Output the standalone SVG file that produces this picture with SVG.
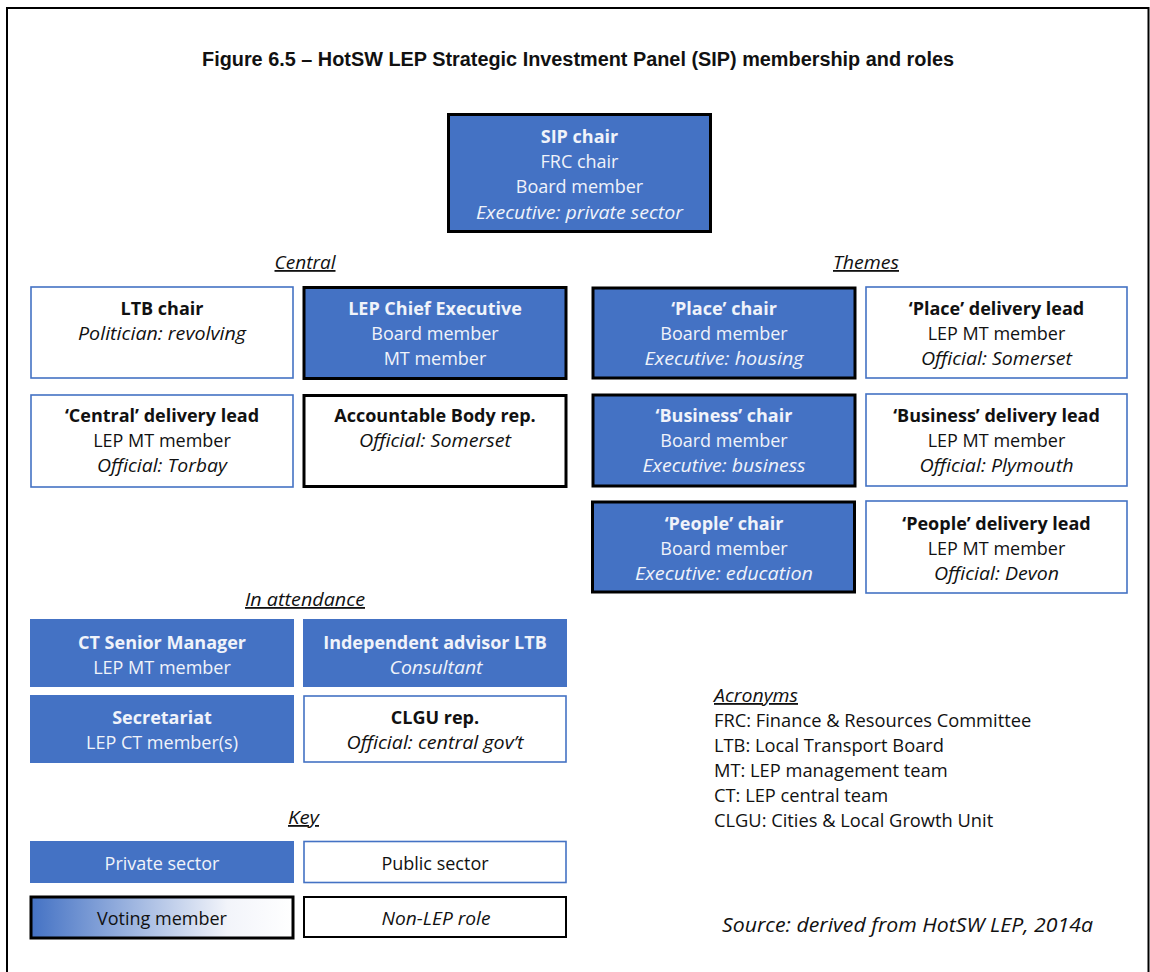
<svg xmlns="http://www.w3.org/2000/svg" width="1150" height="972" viewBox="0 0 1150 972">
<defs>
<linearGradient id="vote" x1="0" y1="0" x2="1" y2="0">
<stop offset="0" stop-color="#4472C4"/>
<stop offset="0.75" stop-color="#f2f4fa"/>
<stop offset="1" stop-color="#ffffff"/>
</linearGradient>
<style>
.t{font-family:"Open Sans","Liberation Sans",sans-serif;font-size:18px;text-anchor:middle;transform:translateY(1px)}
.b{font-weight:bold}
.i{font-style:italic}
.w{fill:#f0f3fa}
.k{fill:#111}
.priv{fill:#4472C4;stroke:none}
.privv{fill:#4472C4;stroke:#000;stroke-width:3}
.pub{fill:#fff;stroke:#4472C4;stroke-width:1.6}
.pubv{fill:#fff;stroke:#000;stroke-width:3}
.sec{font-family:"Open Sans","Liberation Sans",sans-serif;font-size:18px;font-style:italic;text-anchor:middle;text-decoration:underline;fill:#111;transform:translateY(1px)}
.acr{font-family:"Open Sans","Liberation Sans",sans-serif;font-size:18.3px;fill:#111;transform:translateY(1px)}
</style>
</defs>
<rect width="1150" height="972" fill="#fff"/>
<path d="M7,972 V8 H1148.5 V972" fill="none" stroke="#000" stroke-width="2"/>
<text x="578" y="66" font-family="Liberation Sans,sans-serif" font-size="19.5" font-weight="bold" text-anchor="middle" textLength="752" lengthAdjust="spacingAndGlyphs" fill="#111">Figure 6.5 – HotSW LEP Strategic Investment Panel (SIP) membership and roles</text>

<g id="sip-chair">
<rect class="privv" x="448.5" y="114.5" width="262" height="117"/>
<text class="t b w" x="579.5" y="142">SIP chair</text>
<text class="t w" x="579.5" y="167">FRC chair</text>
<text class="t w" x="579.5" y="192">Board member</text>
<text class="t i w" x="579.5" y="218" textLength="207" lengthAdjust="spacingAndGlyphs">Executive: private sector</text>
</g>

<text class="sec" x="305" y="268" textLength="61" lengthAdjust="spacingAndGlyphs">Central</text>
<text class="sec" x="866" y="268" textLength="66" lengthAdjust="spacingAndGlyphs">Themes</text>

<g id="ltb-chair">
<rect class="pub" x="31" y="287" width="262" height="91"/>
<text class="t b k" x="162" y="314">LTB chair</text>
<text class="t i k" x="162" y="339" textLength="168" lengthAdjust="spacingAndGlyphs">Politician: revolving</text>
</g>
<g id="lep-ceo">
<rect class="privv" x="304" y="287.5" width="262" height="91"/>
<text class="t b w" x="435" y="314">LEP Chief Executive</text>
<text class="t w" x="435" y="339">Board member</text>
<text class="t w" x="435" y="364">MT member</text>
</g>
<g id="central-lead">
<rect class="pub" x="31" y="395" width="262" height="92"/>
<text class="t b k" x="162" y="421">‘Central’ delivery lead</text>
<text class="t k" x="162" y="446">LEP MT member</text>
<text class="t i k" x="162" y="471" textLength="130" lengthAdjust="spacingAndGlyphs">Official: Torbay</text>
</g>
<g id="accountable-body">
<rect class="pubv" x="304" y="395.5" width="262" height="91"/>
<text class="t b k" x="435" y="421">Accountable Body rep.</text>
<text class="t i k" x="435" y="446" textLength="152" lengthAdjust="spacingAndGlyphs">Official: Somerset</text>
</g>

<g id="place-chair">
<rect class="privv" x="593" y="288" width="262" height="90"/>
<text class="t b w" x="724" y="314">‘Place’ chair</text>
<text class="t w" x="724" y="339">Board member</text>
<text class="t i w" x="724" y="364" textLength="159" lengthAdjust="spacingAndGlyphs">Executive: housing</text>
</g>
<g id="place-lead">
<rect class="pub" x="866" y="287" width="261" height="91"/>
<text class="t b k" x="996.5" y="314">‘Place’ delivery lead</text>
<text class="t k" x="996.5" y="339">LEP MT member</text>
<text class="t i k" x="996.5" y="364" textLength="151" lengthAdjust="spacingAndGlyphs">Official: Somerset</text>
</g>
<g id="business-chair">
<rect class="privv" x="593" y="395" width="262" height="91"/>
<text class="t b w" x="724" y="421">‘Business’ chair</text>
<text class="t w" x="724" y="446">Board member</text>
<text class="t i w" x="724" y="471" textLength="163" lengthAdjust="spacingAndGlyphs">Executive: business</text>
</g>
<g id="business-lead">
<rect class="pub" x="866" y="394" width="261" height="92"/>
<text class="t b k" x="996.5" y="421">‘Business’ delivery lead</text>
<text class="t k" x="996.5" y="446">LEP MT member</text>
<text class="t i k" x="996.5" y="471" textLength="154" lengthAdjust="spacingAndGlyphs">Official: Plymouth</text>
</g>
<g id="people-chair">
<rect class="privv" x="592.5" y="502" width="262" height="90"/>
<text class="t b w" x="724" y="529">‘People’ chair</text>
<text class="t w" x="724" y="554">Board member</text>
<text class="t i w" x="724" y="579" textLength="178" lengthAdjust="spacingAndGlyphs">Executive: education</text>
</g>
<g id="people-lead">
<rect class="pub" x="866" y="501" width="261" height="92"/>
<text class="t b k" x="996.5" y="529">‘People’ delivery lead</text>
<text class="t k" x="996.5" y="554">LEP MT member</text>
<text class="t i k" x="996.5" y="579" textLength="125" lengthAdjust="spacingAndGlyphs">Official: Devon</text>
</g>

<text class="sec" x="305" y="605" textLength="120" lengthAdjust="spacingAndGlyphs">In attendance</text>

<g id="ct-senior-manager">
<rect class="priv" x="30" y="619" width="264" height="68"/>
<text class="t b w" x="162" y="648">CT Senior Manager</text>
<text class="t w" x="162" y="673">LEP MT member</text>
</g>
<g id="independent-advisor">
<rect class="priv" x="303" y="619" width="264" height="68"/>
<text class="t b w" x="435" y="648">Independent advisor LTB</text>
<text class="t i w" x="436" y="673" textLength="93" lengthAdjust="spacingAndGlyphs">Consultant</text>
</g>
<g id="secretariat">
<rect class="priv" x="30" y="695" width="264" height="68"/>
<text class="t b w" x="162" y="723">Secretariat</text>
<text class="t w" x="162" y="748">LEP CT member(s)</text>
</g>
<g id="clgu-rep">
<rect class="pub" x="304" y="696" width="262" height="66"/>
<text class="t b k" x="435" y="723">CLGU rep.</text>
<text class="t i k" x="435" y="748" textLength="177" lengthAdjust="spacingAndGlyphs">Official: central gov’t</text>
</g>

<text class="sec" x="303.5" y="823" textLength="31" lengthAdjust="spacingAndGlyphs">Key</text>

<g id="key-private">
<rect class="priv" x="30" y="841" width="264" height="42"/>
<text class="t w" x="162" y="869">Private sector</text>
</g>
<g id="key-public">
<rect class="pub" x="304" y="841.5" width="262" height="41"/>
<text class="t k" x="435" y="869">Public sector</text>
</g>
<g id="key-voting">
<rect x="31" y="897" width="262" height="41" fill="url(#vote)" stroke="#000" stroke-width="3"/>
<text class="t k" x="162" y="924">Voting member</text>
</g>
<g id="key-nonlep">
<rect x="304" y="897" width="262" height="40" fill="#fff" stroke="#000" stroke-width="2"/>
<text class="t i k" x="436" y="924" textLength="109" lengthAdjust="spacingAndGlyphs">Non-LEP role</text>
</g>

<g id="acronyms">
<text class="acr" x="714" y="701" font-style="italic" text-decoration="underline" textLength="84" lengthAdjust="spacingAndGlyphs">Acronyms</text>
<text class="acr" x="714" y="726">FRC: Finance &amp; Resources Committee</text>
<text class="acr" x="714" y="751">LTB: Local Transport Board</text>
<text class="acr" x="714" y="776">MT: LEP management team</text>
<text class="acr" x="714" y="801">CT: LEP central team</text>
<text class="acr" x="714" y="826">CLGU: Cities &amp; Local Growth Unit</text>
</g>
<text x="722" y="932" font-family="Open Sans,Liberation Sans,sans-serif" font-size="20" font-style="italic" fill="#111" textLength="371" lengthAdjust="spacingAndGlyphs">Source: derived from HotSW LEP, 2014a</text>
<g id="connectors"></g>
</svg>
